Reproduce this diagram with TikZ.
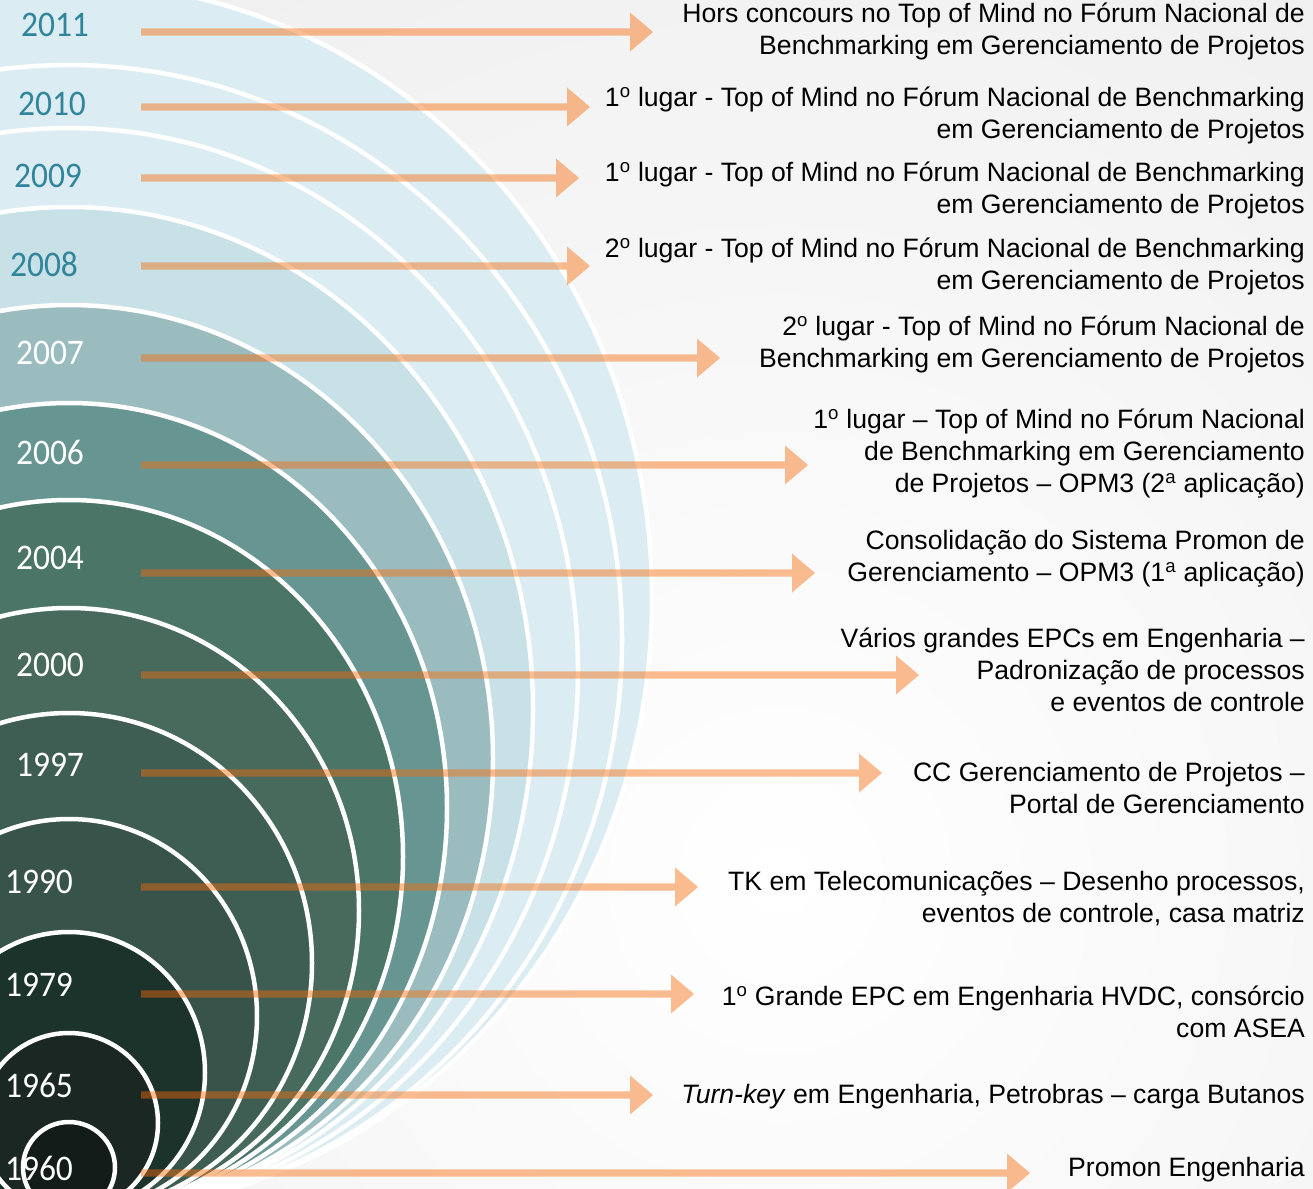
\documentclass[tikz,border=0pt]{standalone}
\usepackage{fontspec}
\setmainfont{Liberation Sans}
\newfontfamily\yearfont[FakeStretch=0.93]{Carlito}
\usetikzlibrary{calc}
\definecolor{bggray}{HTML}{E2E2E2}
\definecolor{cA}{HTML}{DBEDF2}
\definecolor{cB}{HTML}{C7E1E6}
\definecolor{cC}{HTML}{9BBCBE}
\definecolor{cD}{HTML}{679692}
\definecolor{cE}{HTML}{4B7567}
\definecolor{cF}{HTML}{476A5D}
\definecolor{cG}{HTML}{3F5E53}
\definecolor{cH}{HTML}{37534A}
\definecolor{cI}{HTML}{1C332C}
\definecolor{cJ}{HTML}{1B2723}
\definecolor{cK}{HTML}{141C19}
\definecolor{yearteal}{HTML}{31849B}
\definecolor{arrorange}{RGB}{246,108,10}
\tikzset{
  ring/.style={draw=white, line width=4.5pt},
  arr/.style={fill=arrorange, fill opacity=0.45},
  desc/.style={anchor=east, align=right, inner sep=0pt, text=black,
    font=\fontsize{26.6}{32}\selectfont},
  yearlab/.style={inner sep=0pt, font=\yearfont\fontsize{36}{36}\selectfont},
  yteal/.style={yearlab, text=yearteal},
  ywhite/.style={yearlab, text=white},
}
\newcommand\tlarrow[2]{%
  \fill[arr] ($(#1)+(0,3.6)$) -- ($(#2)+(-23,3.6)$) -- ($(#2)+(-23,19.5)$) -- (#2)
    -- ($(#2)+(-23,-19.5)$) -- ($(#2)+(-23,-3.6)$) -- ($(#1)+(0,-3.6)$) -- cycle;}
\begin{document}
\begin{tikzpicture}[x=1pt,y=-1pt]
\useasboundingbox (0,0) rectangle (1313,1188);
\clip (0,0) rectangle (1313,1188);
% background
\fill[bggray] (0,0) rectangle (1313,1188);
\shade[inner color=white, outer color=bggray] (780,880) circle [radius=2000pt];
% nested rings, outermost first
\path[ring, fill=cA] (69,598) ellipse (583pt and 615pt);
\path[ring, fill=cA] (69,639) ellipse (553pt and 574pt);
\path[ring, fill=cA] (69,670.5) ellipse (509pt and 542.5pt);
\path[ring, fill=cB] (69,710) ellipse (464pt and 503pt);
\path[ring, fill=cC] (69,759) ellipse (424pt and 454pt);
\path[ring, fill=cD] (69,808) ellipse (378pt and 405pt);
\path[ring, fill=cE] (69,856.5) ellipse (334pt and 356.5pt);
\path[ring, fill=cF] (69,910.5) ellipse (290pt and 302.5pt);
\path[ring, fill=cG] (69,963) ellipse (243pt and 250pt);
\path[ring, fill=cH] (69,1016) ellipse (188pt and 197pt);
\path[ring, fill=cI] (69,1072.5) ellipse (136pt and 140.5pt);
\path[ring, fill=cJ] (69,1123) ellipse (89pt and 90pt);
\path[ring, fill=cK] (69,1167.5) ellipse (46pt and 45.5pt);
% year labels
\node[yteal] (y2011) at (55,25) {2011};
\node[yteal] (y2010) at (52,104) {2010};
\node[yteal] (y2009) at (48,176) {2009};
\node[yteal] (y2008) at (44,264) {2008};
\node[ywhite] (y2007) at (50,353) {2007};
\node[ywhite] (y2006) at (50,452) {2006};
\node[ywhite] (y2004) at (50,558) {2004};
\node[ywhite] (y2000) at (50,665) {2000};
\node[ywhite] (y1997) at (50,765) {1997};
\node[ywhite] (y1990) at (39,882) {1990};
\node[ywhite] (y1979) at (39,985) {1979};
\node[ywhite] (y1965) at (39,1085) {1965};
\node[ywhite] (y1960) at (39,1168) {1960};
% arrow end points
\coordinate (s2011) at (141,32);   \coordinate (e2011) at (653,32);
\coordinate (s2010) at (141,107);  \coordinate (e2010) at (590,107);
\coordinate (s2009) at (141,178);  \coordinate (e2009) at (579,178);
\coordinate (s2008) at (141,266);  \coordinate (e2008) at (590,266);
\coordinate (s2007) at (141,358);  \coordinate (e2007) at (720,358);
\coordinate (s2006) at (141,465);  \coordinate (e2006) at (808,465);
\coordinate (s2004) at (141,573);  \coordinate (e2004) at (815,573);
\coordinate (s2000) at (141,675);  \coordinate (e2000) at (919,675);
\coordinate (s1997) at (141,773);  \coordinate (e1997) at (882,773);
\coordinate (s1990) at (141,887);  \coordinate (e1990) at (698,887);
\coordinate (s1979) at (141,994);  \coordinate (e1979) at (694,994);
\coordinate (s1965) at (141,1095); \coordinate (e1965) at (653,1095);
\coordinate (s1960) at (141,1173); \coordinate (e1960) at (1030,1173);
\tlarrow{s2011}{e2011}
\tlarrow{s2010}{e2010}
\tlarrow{s2009}{e2009}
\tlarrow{s2008}{e2008}
\tlarrow{s2007}{e2007}
\tlarrow{s2006}{e2006}
\tlarrow{s2004}{e2004}
\tlarrow{s2000}{e2000}
\tlarrow{s1997}{e1997}
\tlarrow{s1990}{e1990}
\tlarrow{s1979}{e1979}
\tlarrow{s1965}{e1965}
\tlarrow{s1960}{e1960}
% descriptions
\node[desc] (t2011) at (1305,31) {Hors concours no Top of Mind no Fórum Nacional de\\Benchmarking em Gerenciamento de Projetos};
\node[desc] (t2010) at (1305,115) {1\textsuperscript{o} lugar - Top of Mind no Fórum Nacional de Benchmarking\\em Gerenciamento de Projetos};
\node[desc] (t2009) at (1305,190) {1\textsuperscript{o} lugar - Top of Mind no Fórum Nacional de Benchmarking\\em Gerenciamento de Projetos};
\node[desc] (t2008) at (1305,266) {2\textsuperscript{o} lugar - Top of Mind no Fórum Nacional de Benchmarking\\em Gerenciamento de Projetos};
\node[desc] (t2007) at (1305,344) {2\textsuperscript{o} lugar - Top of Mind no Fórum Nacional de\\Benchmarking em Gerenciamento de Projetos};
\node[desc] (t2006) at (1305,454) {1\textsuperscript{o} lugar – Top of Mind no Fórum Nacional\\de Benchmarking em Gerenciamento\\de Projetos – OPM3 (2\textsuperscript{a} aplicação)};
\node[desc] (t2004) at (1305,559) {Consolidação do Sistema Promon de\\Gerenciamento – OPM3 (1\textsuperscript{a} aplicação)};
\node[desc] (t2000) at (1305,670) {Vários grandes EPCs em Engenharia –\\Padronização de processos\\e eventos de controle};
\node[desc] (t1997) at (1305,788) {CC Gerenciamento de Projetos –\\Portal de Gerenciamento};
\node[desc] (t1990) at (1305,899) {TK em Telecomunicações – Desenho processos,\\eventos de controle, casa matriz};
\node[desc] (t1979) at (1305,1012) {1\textsuperscript{o} Grande EPC em Engenharia HVDC, consórcio\\com ASEA};
\node[desc] (t1965) at (1305,1097) {\textit{Turn-key} em Engenharia, Petrobras – carga Butanos};
\node[desc] (t1960) at (1305,1170) {Promon Engenharia};
\end{tikzpicture}
\end{document}
